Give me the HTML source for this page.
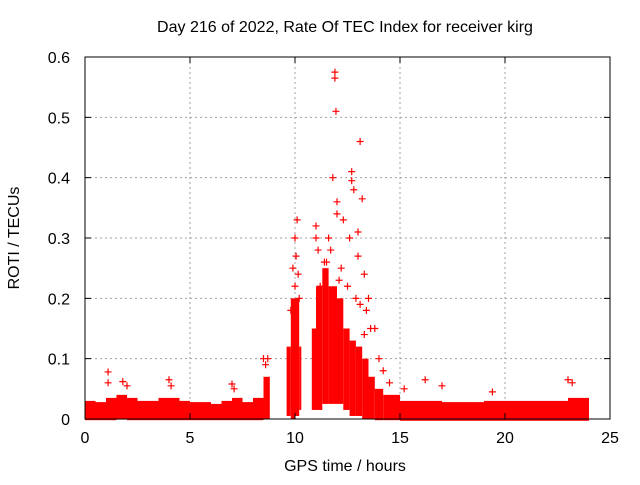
<!DOCTYPE html>
<html><head><meta charset="utf-8"><style>
body{margin:0;background:#fff}
text{font-family:"Liberation Sans",sans-serif;font-size:16px;fill:#000}
</style></head><body>
<svg id="chart" width="640" height="480" xmlns="http://www.w3.org/2000/svg">
<text x="345" y="32" text-anchor="middle">Day 216 of 2022, Rate Of TEC Index for receiver kirg</text>
<text transform="translate(19,238) rotate(-90)" text-anchor="middle">ROTI / TECUs</text>
<text x="345" y="471" text-anchor="middle">GPS time / hours</text>
<g id="grid"></g>
<g id="marks"></g>
<rect x="85" y="57" width="525" height="362" fill="none" stroke="#000" stroke-width="1"/>
<g id="axes"></g>
</svg>
<script>
const xTicks=[0,5,10,15,20,25];
const yTicks=[0,0.1,0.2,0.3,0.4,0.5,0.6];
const yTickLabels=["0","0.1","0.2","0.3","0.4","0.5","0.6"];
// dense band envelope: bin start/end hours, low/high ROTI
const binStart=[0,0.5,1,1.5,2,2.5,3,3.5,4,4.5,5,5.5,6,6.5,7,7.5,8,8.5,9.6,9.8,10.0,10.2,10.8,11.0,11.3,11.6,12.0,12.3,12.6,12.9,13.2,13.5,13.8,14.2,15,16,17,18,19,20,21,22,23];
const binEnd=[0.5,1,1.5,2,2.5,3,3.5,4,4.5,5,5.5,6,6.5,7,7.5,8,8.5,8.8,9.8,10.0,10.2,10.3,11.0,11.3,11.6,12.0,12.3,12.6,12.9,13.2,13.5,13.8,14.2,15,16,17,18,19,20,21,22,23,24];
const binLow=[0.003,0.003,0.003,0.004,0.003,0.003,0.003,0.003,0.003,0.003,0.003,0.003,0.003,0.003,0.003,0.003,0.003,0.005,0.01,0.005,0.01,0.02,0.02,0.02,0.03,0.03,0.03,0.02,0.01,0.01,0.005,0.005,0.003,0.003,0.002,0.002,0.002,0.002,0.002,0.002,0.002,0.002,0.002];
const binHigh=[0.03,0.028,0.035,0.04,0.035,0.03,0.03,0.035,0.035,0.03,0.028,0.028,0.025,0.03,0.035,0.028,0.035,0.07,0.12,0.2,0.2,0.12,0.15,0.22,0.25,0.22,0.2,0.15,0.13,0.12,0.1,0.07,0.05,0.04,0.03,0.03,0.028,0.028,0.03,0.03,0.03,0.03,0.035];
// isolated points
const ptX=[1.1,1.1,1.8,2,4,4.1,7,7.1,8.5,8.7,8.6,9.9,10,10.1,10.05,10.15,10.2,10,9.8,11,11,11.1,11.5,11.6,11.8,11.9,11.9,11.95,12,12,12.3,12.6,12.7,12.7,12.8,13.1,13.2,13,13,13.3,13.5,13.8,14,14.5,16.2,17,19.4,23,23.2,11.2,12.2,12.5,13.4,13.6,12.9,11.4,11.7,12.1,13.1,13.3,14.2,15.2];
const ptY=[0.078,0.06,0.062,0.055,0.065,0.055,0.058,0.05,0.1,0.1,0.09,0.25,0.3,0.33,0.27,0.24,0.2,0.22,0.18,0.32,0.3,0.28,0.26,0.3,0.4,0.575,0.565,0.51,0.36,0.34,0.33,0.3,0.41,0.395,0.38,0.46,0.365,0.31,0.27,0.24,0.2,0.15,0.1,0.06,0.065,0.055,0.045,0.065,0.06,0.22,0.25,0.22,0.18,0.15,0.2,0.26,0.28,0.23,0.19,0.14,0.08,0.05];
const X=h=>85+h*21, Y=v=>419-v*603.3;
const NS="http://www.w3.org/2000/svg";
const grid=document.getElementById('grid'),axes=document.getElementById('axes'),marks=document.getElementById('marks');
function mk(tag,at,parent){const e=document.createElementNS(NS,tag);for(const k in at)e.setAttribute(k,at[k]);parent.appendChild(e);return e;}
xTicks.forEach(t=>{
  if(t>0&&t<25){const l=mk('line',{x1:X(t),x2:X(t),y1:57,y2:419,stroke:'#a0a0a0','stroke-dasharray':'2,3'},grid);
  
  }
  const tk=mk('path',{d:`M${X(t)} 419v-6M${X(t)} 57v6`,stroke:'#000'},axes);
  
  
  const tx=mk('text',{x:X(t),y:443,'text-anchor':'middle'},axes);tx.textContent=t;
  
  
});
yTicks.forEach((t,i)=>{
  if(t>0&&t<0.6){const l=mk('line',{x1:85,x2:610,y1:Y(t),y2:Y(t),stroke:'#a0a0a0','stroke-dasharray':'2,3'},grid);
  
  }
  const tk=mk('path',{d:`M85 ${Y(t)}h6M610 ${Y(t)}h-6`,stroke:'#000'},axes);
  
  
  const tx=mk('text',{x:70,y:Y(t)+6,'text-anchor':'end'},axes);tx.textContent=yTickLabels[i];
  
  
});
binStart.forEach((s,i)=>{
  const r=mk('rect',{x:X(s),y:Y(binHigh[i]),width:X(binEnd[i])-X(s),height:Y(binLow[i])-Y(binHigh[i])+3,fill:'#ff0000'},marks);
  
  
});
let d='';
ptX.forEach((x,i)=>{const cx=X(x),cy=Y(ptY[i]);d+=`M${cx-3.5} ${cy}h7M${cx} ${cy-3.5}v7`;});
const p=mk('path',{d:d,stroke:'#ff0000','stroke-width':1.2,fill:'none'},marks);


</script>
</body></html>
